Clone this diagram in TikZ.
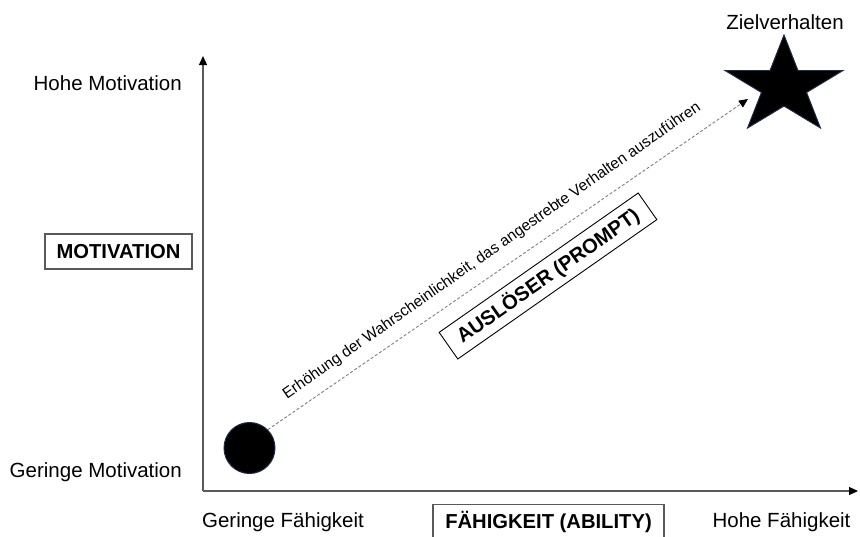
\documentclass[tikz,border=0pt]{standalone}
\usepackage{fontspec}
\setmainfont{Liberation Sans}
\usetikzlibrary{arrows.meta,shapes.geometric}
\definecolor{axisgray}{HTML}{595959}
\definecolor{navyedge}{HTML}{1F2A44}
\tikzset{
  lbl/.style={font=\fontsize{20.5}{24}\selectfont, inner sep=0pt},
  boxlbl/.style={draw=axisgray, line width=1.2pt, font=\fontsize{20.2}{24}\selectfont\bfseries, inner sep=0pt, minimum height=35},
  axis/.style={draw=axisgray, line width=1.3pt, -{Triangle[length=9pt,width=8pt,color=black]}},
  trend/.style={draw=gray, line width=0.9pt, dash pattern=on 3pt off 2pt, -{Triangle[length=9pt,width=8pt,color=black]}},
  blob/.style={fill=black, draw=navyedge, line width=1pt}
}
\begin{document}
\begin{tikzpicture}[x=1pt,y=-1pt]
\useasboundingbox (0,0) rectangle (860,536);
% axes
\coordinate (O) at (203,491);
\coordinate (ytip) at (203,56);
\coordinate (xtip) at (858,491);
\draw[axis] (O) -- (ytip);
\draw[axis] (O) -- (xtip);
% axis labels
\node[lbl, anchor=east] (hm) at (182,83) {Hohe Motivation};
\node[boxlbl, minimum width=147] (mot) at (118.5,251.5) {MOTIVATION};
\node[lbl, anchor=east] (gm) at (182,472) {Geringe Motivation};
\node[lbl] (gf) at (283,522) {Geringe Fähigkeit};
\node[boxlbl, minimum width=231] (fae) at (548.5,522) {FÄHIGKEIT (ABILITY)};
\node[lbl] (hf) at (781.5,522) {Hohe Fähigkeit};
\node[lbl] (ziel) at (785,22) {Zielverhalten};
% start circle
\node[blob, circle, minimum size=51, inner sep=0pt] (start) at (249.5,448) {};
% star
\draw[blob, line join=miter] ({784+62*cos(90)},{86.4-51.4*sin(90)})
  \foreach \i in {1,...,9} {
    -- ({784+(mod(\i,2)==0 ? 62 : 62*0.382)*cos(90+36*\i)},{86.4-(mod(\i,2)==0 ? 51.4 : 51.4*0.382)*sin(90+36*\i)})
  } -- cycle;
% trend arrow
\coordinate (tgt) at (748,99);
\draw[trend] (start.45) -- (tgt);
\node[font=\fontsize{15.5}{18}\selectfont, rotate=35, inner sep=0pt] (trendlbl) at (492,251) {Erhöhung der Wahrscheinlichkeit, das angestrebte Verhalten auszuführen};
% prompt box
\node[draw=black, line width=0.9pt, rotate=35, minimum width=243, minimum height=32.5, inner sep=0pt, font=\fontsize{20.2}{24}\selectfont\bfseries] (prompt) at (548,276) {AUSLÖSER (PROMPT)};
\end{tikzpicture}
\end{document}
